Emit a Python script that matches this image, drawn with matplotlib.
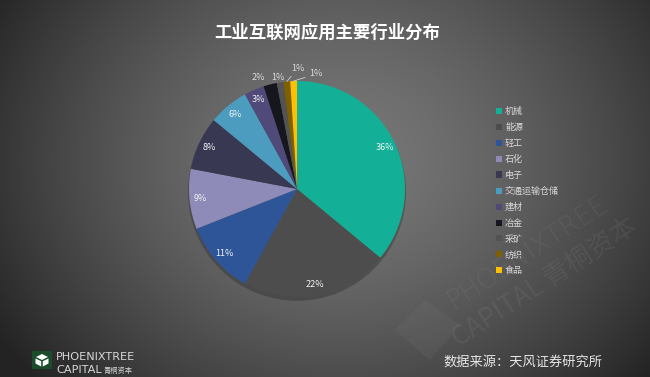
import numpy as np
import matplotlib
matplotlib.use('Agg')
import matplotlib.pyplot as plt
from matplotlib.patches import Circle, Rectangle, Polygon

categories = ['机械', '能源', '轻工', '石化', '电子', '交通运输仓储', '建材', '冶金', '采矿', '纺织', '食品']
shares = [36, 22, 11, 9, 8, 6, 3, 2, 1, 1, 1]
colors = ['#13B097', '#4D4D4D', '#2E5597', '#8E8BB8', '#383852', '#4C9CC0',
          '#4F4A7A', '#16161E', '#535353', '#7F6000', '#FFC000']
title = '工业互联网应用主要行业分布'
source = '数据来源：天风证券研究所'

# outside label placement for small slices (fraction of radius), style only
outside_pos = {'冶金': (-0.36, 1.03), '采矿': (-0.176, 1.03), '纺织': (0.01, 1.12), '食品': (0.175, 1.065)}
leader = {'纺织', '食品'}

plt.rcParams['font.family'] = ['Noto Sans CJK SC', 'DejaVu Sans']

W, H = 650, 377
fig = plt.figure(figsize=(6.5, 3.77), dpi=100)

# background gradient
bg = fig.add_axes([0, 0, 1, 1])
bg.axis('off')
yy, xx = np.mgrid[0:H, 0:W]
d = np.hypot((xx - 340) / 360.0, (yy - 160) / 300.0)
v = np.clip(0.47 - 0.28 * d ** 1.5, 0.14, 1)
bg.imshow(np.dstack([v, v, v]), extent=[0, W, H, 0], aspect='auto', zorder=0)
bg.set_xlim(0, W)
bg.set_ylim(H, 0)

# watermark
wm = dict(color='white', alpha=0.06, rotation=33, ha='center', va='center',
          rotation_mode='anchor', zorder=1)
bg.text(528, 252, 'PHOENIXTREE', fontsize=19, family='DejaVu Sans', fontweight='light', **wm)
bg.text(545, 282, 'CAPITAL 青桐资本', fontsize=19, fontweight='light', **wm)
bg.add_patch(Polygon([[395, 330], [425, 300], [460, 325], [430, 360]], closed=True,
                     facecolor='white', alpha=0.035, edgecolor='none', zorder=1))

# title
bg.text(327, 32.5, title, fontsize=12.5, fontweight='bold', color='white', ha='center', va='center', zorder=3)

# source
bg.text(443, 362, source, fontsize=9.5, color='#e6e6e6', ha='left', va='center', zorder=3)

# logo
bg.add_patch(Rectangle((32, 351), 20, 18, facecolor='#1B4D2B', edgecolor='none', zorder=3))
bg.add_patch(Polygon([[42, 354], [48, 357], [42, 360], [36, 357]], facecolor='white', edgecolor='none', zorder=4))
bg.add_patch(Polygon([[35.5, 358.5], [41.2, 361.2], [41.2, 366.5], [35.5, 363.5]], facecolor='white', edgecolor='none', zorder=4))
bg.add_patch(Polygon([[48.5, 358.5], [42.8, 361.2], [42.8, 366.5], [48.5, 363.5]], facecolor='white', edgecolor='none', zorder=4))
bg.text(56, 357.5, 'PHOENIXTREE', fontsize=8.1, color='#d8d8d8', family='DejaVu Sans', ha='left', va='center', zorder=3)
bg.text(56, 370, 'CAPITAL', fontsize=8.1, color='#d8d8d8', family='DejaVu Sans', ha='left', va='center', zorder=3)
bg.text(104, 370.5, '青桐资本', fontsize=5.2, color='#d8d8d8', ha='left', va='center', zorder=3)

# pie
cx, cy, R = 297, 189, 108
k = 1.4
ax = fig.add_axes([(cx - R * k) / W, (H - cy - R * k) / H, 2 * R * k / W, 2 * R * k / H])
ax.add_patch(Circle((0.0, -0.025), 1.01, facecolor='black', alpha=0.22, edgecolor='none', zorder=0))

def fmt(p):
    return f'{p:.0f}%' if p >= 2.5 else ''

wedges, texts, autotexts = ax.pie(shares, colors=colors, startangle=90, counterclock=False,
                                  radius=1, autopct=fmt, pctdistance=0.9,
                                  textprops=dict(color='#f2f2f2', fontsize=6.5),
                                  wedgeprops=dict(linewidth=0))
for w in wedges:
    w.set_zorder(2)
for t in autotexts:
    t.set_zorder(3)
ax.set_xlim(-k, k)
ax.set_ylim(-k, k)
ax.axis('off')

total = float(sum(shares))
for w, cat, s in zip(wedges, categories, shares):
    if cat in outside_pos:
        mid = np.deg2rad((w.theta1 + w.theta2) / 2)
        edge = (np.cos(mid), np.sin(mid))
        pos = outside_pos[cat]
        ap = dict(arrowstyle='-', color='#cfcfcf', lw=0.6, shrinkA=1, shrinkB=0) if cat in leader else None
        ax.annotate(f'{s / total * 100:.0f}%', xy=edge, xytext=pos, ha='center', va='center',
                    fontsize=6.5, color='#dcdcdc', arrowprops=ap, zorder=3)

# legend
leg = ax.legend(wedges, categories, loc='upper left', bbox_to_anchor=(496 / W, 1 - 107 / H),
                bbox_transform=fig.transFigure, frameon=False, fontsize=6.5,
                handlelength=0.65, handleheight=0.65, handletextpad=0.35,
                labelspacing=0.76, borderpad=0, borderaxespad=0)
for t in leg.get_texts():
    t.set_color('#d9d9d9')

fig.savefig('out.png', dpi=100)
